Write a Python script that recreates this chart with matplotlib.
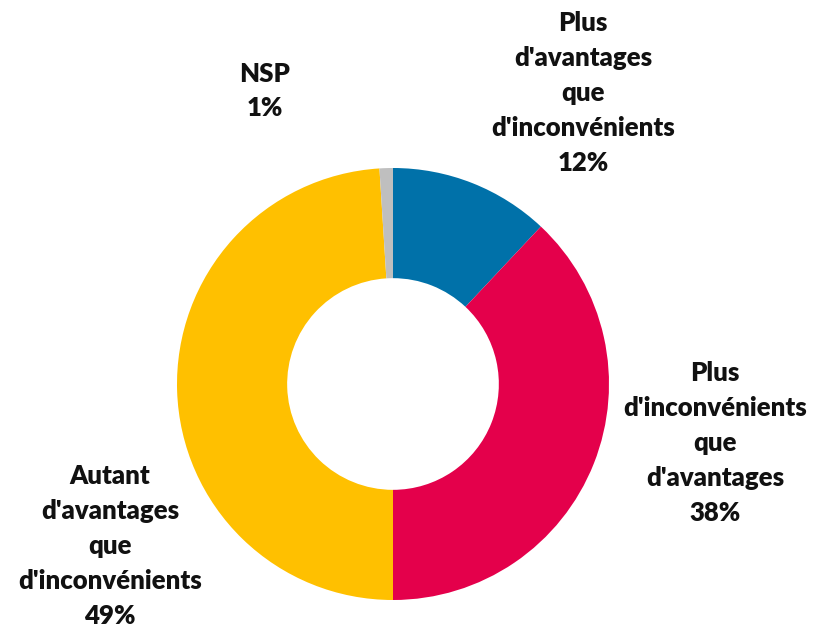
import matplotlib
matplotlib.use('Agg')
import matplotlib.pyplot as plt

# Données du graphique
categories = ["Plus\nd'avantages\nque\nd'inconvénients",
              "Plus\nd'inconvénients\nque\nd'avantages",
              "Autant\nd'avantages\nque\nd'inconvénients",
              "NSP"]
valeurs = [12, 38, 49, 1]
couleurs = ['#0071A9', '#E4004B', '#FFC000', '#BFBFBF']

# positions des étiquettes (pixels, origine en haut à gauche)
label_pos = [(583, 93), (715, 443), (110, 546), (265, 91)]

W, H = 815, 628
fig = plt.figure(figsize=(W / 100, H / 100), dpi=100)
ax = fig.add_axes([0, 0, 1, 1])

cx, cy, r = 393, H - 384, 216
ax.pie(valeurs, colors=couleurs, startangle=90, counterclock=False,
       center=(cx, cy), radius=r, frame=True,
       wedgeprops=dict(width=r * 0.51, linewidth=0))
ax.set_xlim(0, W)
ax.set_ylim(0, H)
ax.set_aspect('equal')
ax.axis('off')

for cat, v, (x, y) in zip(categories, valeurs, label_pos):
    ax.text(x, H - y, "%s\n%d%%" % (cat, v), ha='center', va='center',
            fontsize=18.5, fontweight='heavy', family=['Lato', 'DejaVu Sans'],
            color='#111111', linespacing=1.55)

fig.savefig('out.png', dpi=100)
